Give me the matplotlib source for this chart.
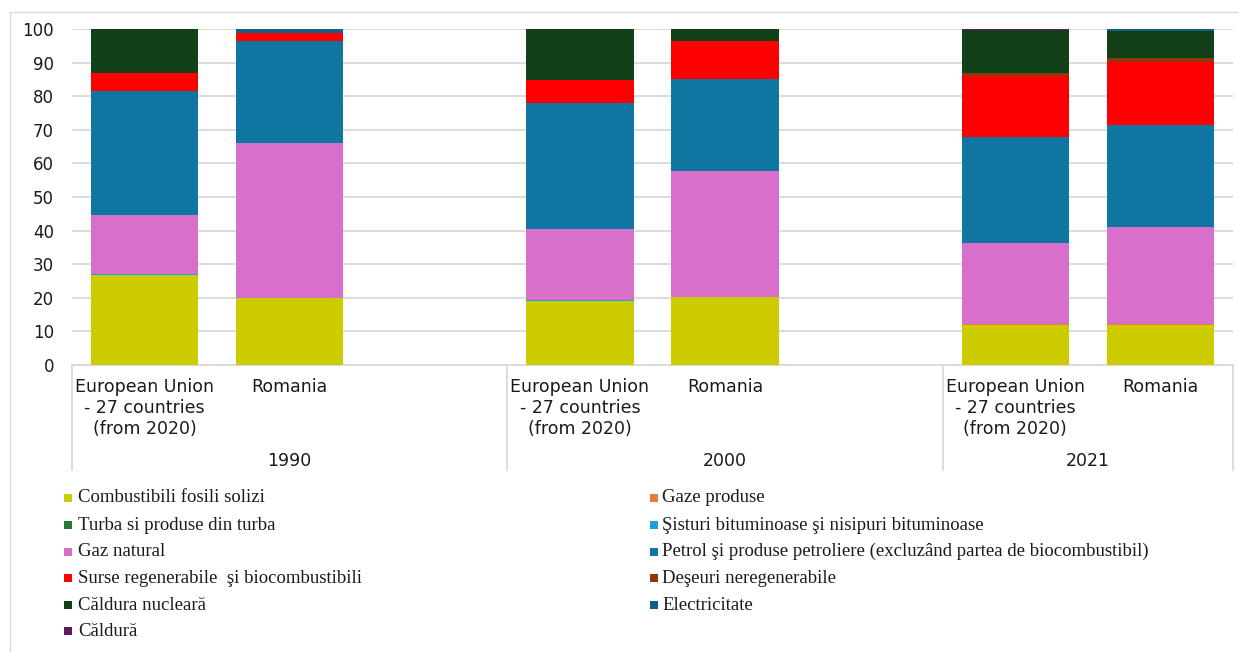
import matplotlib
matplotlib.use("Agg")
import matplotlib.pyplot as plt
from matplotlib.patches import Rectangle
from matplotlib.lines import Line2D
from matplotlib.transforms import blended_transform_factory
import numpy as np

# Categories (two countries per year)
years = ["1990", "2000", "2021"]
countries = ["European Union\n- 27 countries\n(from 2020)", "Romania"]

# Fuel series, stacked bottom to top; values in % of final energy mix
series_names = [
    "Combustibili fosili solizi",
    "Gaze produse",
    "Turba si produse din turba",
    "Şisturi bituminoase şi nisipuri bituminoase",
    "Gaz natural",
    "Petrol şi produse petroliere (excluzând partea de biocombustibil)",
    "Surse regenerabile  şi biocombustibili",
    "Deşeuri neregenerabile",
    "Căldura nucleară",
    "Electricitate",
    "Căldură",
]
series_colors = [
    "#cccc00", "#ed7d31", "#237a34", "#1ba1e2", "#d76fcb", "#0e76a0",
    "#ff0000", "#8b3a0f", "#124019", "#13607e", "#5e1b5b",
]

# Order of bars: EU 1990, RO 1990, EU 2000, RO 2000, EU 2021, RO 2021
solid_fossil = [26.7, 20.0, 19.1, 20.3, 11.8, 11.8]
manufactured_gas = [0.0, 0.0, 0.0, 0.0, 0.3, 0.3]
peat = [0.0, 0.0, 0.0, 0.0, 0.0, 0.0]
oil_shale = [0.5, 0.0, 0.3, 0.0, 0.0, 0.0]
natural_gas = [17.4, 46.1, 21.1, 37.4, 24.2, 29.0]
oil = [36.9, 30.3, 37.5, 27.3, 31.6, 30.3]
renewables = [5.3, 2.3, 6.8, 11.4, 18.0, 18.9]
nonrenewable_waste = [0.0, 0.0, 0.0, 0.0, 0.9, 1.0]
nuclear_heat = [13.1, 0.0, 15.1, 3.6, 13.0, 8.2]
electricity = [0.1, 1.3, 0.1, 0.0, 0.0, 0.5]
heat = [0.0, 0.0, 0.0, 0.0, 0.2, 0.0]

series_values = [solid_fossil, manufactured_gas, peat, oil_shale, natural_gas, oil,
                 renewables, nonrenewable_waste, nuclear_heat, electricity, heat]

W, H = 1239, 652
fig = plt.figure(figsize=(W / 100, H / 100), dpi=100)

ax_left, ax_right, ax_top, ax_bottom = 72, 1233, 29, 365
ax = fig.add_axes([ax_left / W, 1 - ax_bottom / H,
                   (ax_right - ax_left) / W, (ax_bottom - ax_top) / H])

# Slot positions: two bars per year, with an empty slot between years
positions = [0, 1, 3, 4, 6, 7]
bottom = np.zeros(len(positions))
for name, vals, col in zip(series_names, series_values, series_colors):
    v = np.array(vals, dtype=float)
    ax.bar(positions, v, bottom=bottom, width=0.74, color=col,
           edgecolor="none", zorder=3)
    bottom += v

ax.set_xlim(-0.5, 7.5)
ax.set_ylim(0, 100)
ax.set_yticks(np.arange(0, 101, 10))
ax.set_xticks([])
ax.grid(axis="y", color="#d9d9d9", linewidth=1.3, zorder=0)
for s in ["top", "right", "left"]:
    ax.spines[s].set_visible(False)
ax.spines["bottom"].set_color("#d9d9d9")
ax.spines["bottom"].set_linewidth(1.3)
ax.tick_params(axis="y", length=0, pad=13, labelsize=12, labelcolor="#1a1a1a")
for lbl in ax.get_yticklabels():
    lbl.set_family("DejaVu Sans")

# Category axis: country labels, year labels and group separators
ax_h = ax_bottom - ax_top
trans = blended_transform_factory(ax.transData, ax.transAxes)
for i, p in enumerate(positions):
    ax.text(p, -(378 - ax_bottom) / ax_h, countries[i % 2], transform=trans,
            ha="center", va="top", fontsize=12.5, linespacing=1.2,
            color="#1a1a1a", family="DejaVu Sans")
group_edges = [(-0.5, 2.5), (2.5, 5.5), (5.5, 7.5)]
for (lo, hi), yr in zip(group_edges, years):
    ax.text((lo + hi) / 2, -(461 - ax_bottom) / ax_h, yr, transform=trans,
            ha="center", va="center", fontsize=12.5, color="#1a1a1a",
            family="DejaVu Sans")
for xs in [-0.5, 2.5, 5.5, 7.5]:
    ax.add_line(Line2D([xs, xs], [0, -(470 - ax_bottom) / ax_h], transform=trans,
                       color="#d9d9d9", linewidth=1.3, clip_on=False))

# Legend laid out in two columns
col_x = [(64, 78), (650, 662)]
row_y = [498, 525, 551.7, 578.3, 605, 631]
for k, (name, col) in enumerate(zip(series_names, series_colors)):
    c = k % 2
    r = k // 2
    mx, tx = col_x[c]
    yc = row_y[r]
    fig.add_artist(Rectangle((mx / W, 1 - (yc + 4) / H), 8 / W, 8 / H,
                             transform=fig.transFigure, facecolor=col,
                             edgecolor="none"))
    fig.text(tx / W, 1 - yc / H, name, ha="left", va="center",
             fontsize=13.5, family="Liberation Serif", color="#1a1a1a")

# Chart frame
fig.add_artist(Line2D([10 / W, 10 / W], [1 - 12 / H, 0], transform=fig.transFigure,
                      color="#d9d9d9", linewidth=1.0))
fig.add_artist(Line2D([10 / W, 1], [1 - 12 / H, 1 - 12 / H], transform=fig.transFigure,
                      color="#d9d9d9", linewidth=1.0))

fig.savefig("out.png", dpi=100)
